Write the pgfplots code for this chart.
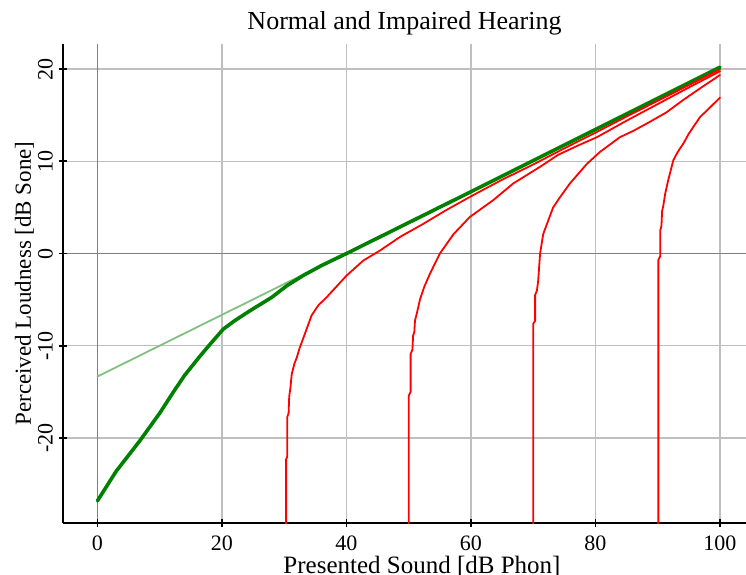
\documentclass[border=0pt]{standalone}
\usepackage{pgfplots}
\pgfplotsset{compat=1.18}
\usepackage{fontspec}
\setmainfont{Liberation Serif}
\usetikzlibrary{calc}
\definecolor{lgreen}{RGB}{128,192,128}
\definecolor{dgreen}{RGB}{0,128,0}
\begin{document}
\begin{tikzpicture}
\begin{axis}[name=ax, width=683pt, height=479pt, scale only axis,
 xmin=-5.54, xmax=104.18, ymin=-29.21, ymax=22.71,
 axis x line*=bottom, axis y line*=left,
 axis line style={line width=1.6pt, black},
 xtick={0,20,40,60,80,100}, xticklabels={0,20,40,60,80,100},
 ytick={-20,-10,0,10,20}, yticklabels={-20,-10,0,10,20},
 tick align=center, major tick length=8pt, tick style={line width=1.6pt, black},
 xticklabel style={font=\fontsize{22}{22}\selectfont, anchor=north, inner xsep=0pt, inner ysep=9pt},
 yticklabel style={font=\fontsize{22}{22}\selectfont, rotate=90, anchor=south, inner xsep=0pt, inner ysep=6pt},
 grid=major, major grid style={line width=1.3pt, color=black!25},
 extra x ticks={0}, extra y ticks={0}, extra x tick labels={}, extra y tick labels={},
 extra tick style={major grid style={line width=1.6pt, color=black!50}},
 every axis plot/.append style={line join=round, line cap=round},
]
% normal hearing asymptote
\addplot[lgreen, line width=1.8pt] coordinates {(0,-13.33) (100,20.1)};
% normal hearing
\addplot[dgreen, line width=3.6pt] coordinates {
(0,-26.8) (3,-23.6) (6.8,-20.3) (10,-17.3) (12.2,-15.0) (14,-13.2) (16.5,-11.1) (18,-9.9) (20.2,-8.2) (22,-7.3) (24.5,-6.2) (28,-4.75) (30.4,-3.5) (33,-2.4) (36,-1.3) (40,0) (60,6.7) (80,13.45) (100,20.2)};
% impaired hearing, threshold 30
\addplot[red, line width=1.8pt] coordinates {
(30.3,-29.5) (30.3,-22.3) (30.5,-22.0) (30.5,-17.7) (30.7,-17.3) (30.8,-15.5) (31.0,-14.5) (31.2,-13.1) (31.6,-12.0) (32,-11.3) (32.5,-10.2) (33.1,-9.1) (34.4,-6.7) (35.5,-5.6) (36.8,-4.75) (38.5,-3.5) (40,-2.4) (42.7,-0.76) (45.4,0.33) (48.6,1.8) (52.3,3.2) (56,4.7) (60,6.2) (65,8.0) (70,9.65) (75,11.4) (80,13.1) (85,14.85) (90,16.55) (95,18.25) (100,19.95)};
% threshold 50
\addplot[red, line width=1.8pt] coordinates {
(50.0,-29.5) (50.0,-15.4) (50.3,-15.0) (50.3,-10.9) (50.6,-10.4) (50.7,-8.9) (50.9,-8.5) (51.0,-7.3) (51.4,-6.2) (51.8,-5.0) (52.5,-3.6) (53.4,-2.2) (55,0) (57.2,2.1) (59.8,3.95) (63.6,5.8) (66.8,7.6) (71.1,9.4) (74,10.7) (77.5,11.8) (80.2,12.6) (85,14.4) (90,16.2) (95,18.0) (100,19.75)};
% threshold 70
\addplot[red, line width=1.8pt] coordinates {
(70.0,-29.5) (70.0,-7.6) (70.3,-7.3) (70.3,-4.5) (70.6,-4.0) (70.8,-2.9) (71.1,0) (71.6,2.1) (72.2,3.2) (73.2,5.0) (74.3,6.1) (75.9,7.6) (78.6,9.7) (80.7,11.0) (83.9,12.6) (86.1,13.3) (88.8,14.3) (91.4,15.3) (94,16.6) (96.8,17.9) (100,19.35)};
% threshold 90
\addplot[red, line width=1.8pt] coordinates {
(90.1,-29.5) (90.1,-0.7) (90.4,-0.3) (90.4,2.5) (90.6,3.0) (90.7,4.6) (90.9,5.2) (91.2,6.5) (91.7,8.0) (92.5,10.1) (93.2,11.0) (94.1,11.9) (95,13.0) (96.2,14.2) (96.8,14.8) (97.9,15.5) (98.8,16.1) (100,16.9)};
\end{axis}
\node[anchor=base, font=\fontsize{26}{26}\selectfont] at ($(ax.north)+(0,14pt)$) {Normal and Impaired Hearing};
\node[anchor=base, font=\fontsize{25}{25}\selectfont] at ($(ax.south)+(17.5pt,-50pt)$) {Presented Sound [dB Phon]};
\node[anchor=base, rotate=90, font=\fontsize{23}{23}\selectfont] at ($(ax.west)+(-32pt,0pt)$) {Perceived Loudness [dB Sone]};
\pgfresetboundingbox
\path ($(ax.south west)+(-63pt,-51pt)$) rectangle ($(ax.north east)+(0pt,44pt)$);
\end{tikzpicture}
\end{document}
